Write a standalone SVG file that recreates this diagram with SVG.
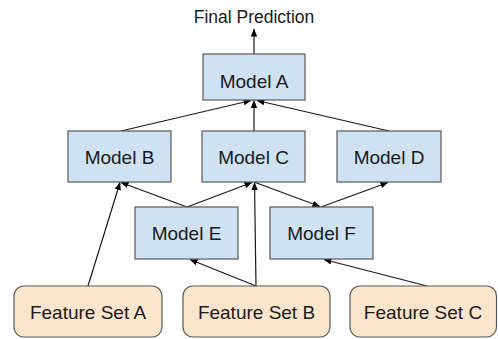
<svg xmlns="http://www.w3.org/2000/svg" width="498" height="339" viewBox="0 0 498 339">
  <style>
    .model rect { fill: #cfe2f3; stroke: #595959; stroke-width: 1.2; }
    .feat rect { fill: #fce5cd; stroke: #595959; stroke-width: 1.2; }
    text { font-family: "Liberation Sans", Arial, sans-serif; font-size: 19px; fill: #1a1a1a; text-anchor: middle; }
    .conn line { stroke: #1a1a1a; stroke-width: 1.2; marker-end: url(#arrow); }
  </style>
  <defs>
    <marker id="arrow" markerUnits="userSpaceOnUse" markerWidth="8" markerHeight="8" viewBox="0 0 8 8" refX="7.5" refY="4" orient="auto">
      <path d="M0,0.8 L8,4 L0,7.2 Z" fill="#000"/>
    </marker>
  </defs>
  <rect width="498" height="339" fill="#ffffff"/>
  <g id="final-prediction">
    <text x="254" y="23" style="font-size:17.5px">Final Prediction</text>
  </g>
  <g class="conn" id="connectors">
    <line x1="254" y1="54" x2="254" y2="29"/>
    <line x1="121" y1="131" x2="251" y2="100.5"/>
    <line x1="254" y1="131" x2="254" y2="100.5"/>
    <line x1="389" y1="131" x2="257" y2="100.5"/>
    <line x1="187" y1="207" x2="121" y2="182.5"/>
    <line x1="187" y1="207" x2="252" y2="182.5"/>
    <line x1="254" y1="182" x2="320" y2="206.5"/>
    <line x1="321" y1="207" x2="388" y2="182.5"/>
    <line x1="88" y1="286" x2="120" y2="182.5"/>
    <line x1="256" y1="286" x2="190" y2="259.5"/>
    <line x1="256" y1="286" x2="254.5" y2="182.5"/>
    <line x1="427" y1="286" x2="324" y2="259.5"/>
  </g>
  <g id="model-a" class="model">
    <rect x="203" y="54" width="102" height="46"/>
    <text x="254" y="88">Model A</text>
  </g>
  <g id="model-b" class="model">
    <rect x="68" y="131" width="103" height="51"/>
    <text x="119.5" y="164">Model B</text>
  </g>
  <g id="model-c" class="model">
    <rect x="202" y="131" width="103" height="51"/>
    <text x="253.5" y="164">Model C</text>
  </g>
  <g id="model-d" class="model">
    <rect x="337" y="131" width="104" height="51"/>
    <text x="389" y="164">Model D</text>
  </g>
  <g id="model-e" class="model">
    <rect x="135" y="207" width="103" height="52"/>
    <text x="186.5" y="240">Model E</text>
  </g>
  <g id="model-f" class="model">
    <rect x="270" y="207" width="103" height="52"/>
    <text x="321.5" y="240">Model F</text>
  </g>
  <g id="feature-set-a" class="feat">
    <rect x="14" y="286" width="148" height="51" rx="10" ry="10"/>
    <text x="88" y="319">Feature Set A</text>
  </g>
  <g id="feature-set-b" class="feat">
    <rect x="183" y="286" width="147" height="51" rx="10" ry="10"/>
    <text x="256.5" y="319">Feature Set B</text>
  </g>
  <g id="feature-set-c" class="feat">
    <rect x="350" y="286" width="146.5" height="51" rx="10" ry="10"/>
    <text x="423" y="319">Feature Set C</text>
  </g>
</svg>
